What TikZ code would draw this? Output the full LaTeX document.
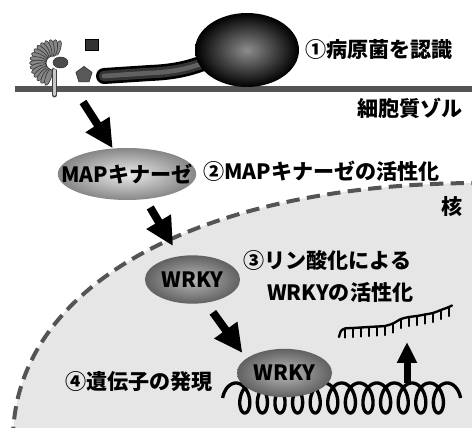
\documentclass[tikz,border=0pt]{standalone}
\usepackage{fontspec}
\setmainfont{Noto Sans CJK JP}
\usepackage{tikz}
\usetikzlibrary{arrows.meta}
\usetikzlibrary{shapes.geometric}

\definecolor{membranegray}{HTML}{545454}
\definecolor{nucleusgray}{HTML}{E6E6E6}

\tikzset{
  txt/.style={font=\bfseries\fontsize{18}{20}\selectfont, inner sep=0pt},
  protein/.style={ellipse, inner sep=0pt, draw=none},
  mapk/.style={protein, inner color=gray!15, outer color=gray!95, minimum width=4.15cm, minimum height=1.56cm},
  wrky/.style={protein, inner color=gray!55, outer color=black!62, minimum width=2.85cm, minimum height=1.45cm},
  sig/.style={line width=0.24cm, -{Triangle[length=0.85cm,width=0.8cm]}},
  lift/.style={line width=0.21cm, -{Triangle[length=0.63cm,width=0.57cm]}},
  petal/.style={fill=gray!95, draw=black!80, line width=0.5pt},
  coil/.style={line width=0.1cm, line join=round},
  rna/.style={line width=0.07cm, line cap=round, line join=round},
}

\begin{document}
\begin{tikzpicture}
  \useasboundingbox (0,0) rectangle (14.16,12.84);
  \clip (0,0) rectangle (14.16,12.84);

  % Nucleus area and its dashed envelope
  \fill[nucleusgray] (0.39,-0.36) .. controls (0.39,4.26) and (6.0,7.35) .. (14.4,7.35) -- (14.4,-0.36) -- cycle;
  \draw[membranegray, line width=0.12cm, dash pattern=on 0.4cm off 0.22cm] (0.39,-0.36) .. controls (0.39,4.26) and (6.0,7.35) .. (14.4,7.35);

  % Plasma membrane
  \draw[membranegray, line width=0.18cm] (0.45,10.17) -- (14.16,10.17);

  % Receptor: stem through the membrane
  \draw[black!75, line width=0.17cm, line cap=round] (1.635,10.74) -- (1.635,10.0);
  \draw[gray!45, line width=0.09cm, line cap=round] (1.635,10.74) -- (1.635,10.0);

  % Receptor: petals round the binding pocket
  \foreach \a in {72,84,...,252}
    \draw[petal, rotate around={\a:(1.59,10.95)}] (2.04,10.95) ellipse (0.25 and 0.085);
  \fill[white] (1.815,10.965) ellipse (0.29 and 0.23);
  \draw[fill=black!70, draw=black!85, line width=0.4pt] (1.815,10.965) ellipse (0.225 and 0.165);

  % Elicitor molecules
  \node[draw=black, fill=black!80, line width=0.6pt, minimum width=0.39cm, minimum height=0.33cm, inner sep=0pt] (elicA) at (2.76,11.49) {};
  \node[regular polygon, regular polygon sides=5, draw=black!80, fill=black!65, line width=0.6pt, minimum size=0.51cm, inner sep=0pt] (elicB) at (2.52,10.59) {};

  % Pathogen: hypha and spore
  \foreach \w/\c in {0.48/100,0.32/80,0.14/62}
    \draw[black!\c, line width=\w cm, line cap=round] (3.12,10.56) -- (4.5,10.65) .. controls (5.25,10.68) and (5.8,10.8) .. (6.45,11.1);
  \shade[inner color=black!45, outer color=black] (7.41,11.34) ellipse (1.56 and 1.11);

  % Labels
  \node[txt, anchor=west] (recog) at (9.15,11.34) {①病原菌を認識};
  \node[txt, anchor=east] (cyto) at (13.89,9.6) {細胞質ゾル};
  \node[txt, anchor=west] (activ) at (6.09,7.71) {②MAPキナーゼの活性化};
  \node[txt, anchor=east] (nuc) at (13.89,6.63) {核};
  \node[txt, anchor=west] (phos) at (7.29,5.04) {③リン酸化による};
  \node[txt, anchor=west] (phosb) at (8.01,4.08) {WRKYの活性化};
  \node[txt, anchor=west] (expr) at (1.95,1.38) {④遺伝子の発現};

  % Gene (coiled DNA)
  \draw[coil] plot[domain=-90:4410, samples=751] ({7.08+0.528*\x/360+0.27*sin(\x)}, {0.9+0.45*cos(\x)});

  % Kinase and transcription factor
  \node[mapk] (map) at (3.81,7.62) {};
  \node[txt] (mapname) at (map) {MAPキナーゼ};
  \node[wrky] (wrkyA) at (5.775,4.455) {};
  \node[txt] (wrkynameA) at (wrkyA) {WRKY};
  \node[wrky] (wrkyB) at (8.535,1.65) {};
  \node[txt] (wrkynameB) at (wrkyB) {WRKY};

  % Transcript
  \draw[rna] plot[smooth, tension=0.5] coordinates {(10.17,2.73) (10.23,2.91) (10.35,2.985) (10.59,3.0) (10.83,3.015) (11.07,3.03) (11.31,3.045) (11.55,3.06) (11.79,3.135) (12.03,3.27) (12.27,3.33) (12.51,3.36) (12.75,3.405) (12.99,3.45) (13.23,3.54) (13.47,3.63) (13.56,3.675)};
  \foreach \x/\y in {10.35/2.985, 10.59/3.0, 10.83/3.015, 11.07/3.03, 11.31/3.045, 11.55/3.06, 11.79/3.135, 12.03/3.27, 12.27/3.33, 12.51/3.36, 12.75/3.405, 12.99/3.45, 13.23/3.54, 13.47/3.63}
    \draw[rna] (\x,\y) -- ++(0,-0.27);

  % Signal arrows
  \coordinate (sense) at (2.49,9.78);
  \draw[sig] (sense) -- (map.119);
  \draw[sig, shorten <=0.285cm, shorten >=0.35cm] (map.-54) -- (wrkyA.120);
  \draw[sig, shorten <=0.35cm, shorten >=0.2cm] (wrkyA.-60) -- (wrkyB.159);

  % Transcription arrow
  \coordinate (gene) at (12.21,1.35);
  \coordinate (mrna) at (12.21,2.58);
  \draw[lift] (gene) -- (mrna);
\end{tikzpicture}
\end{document}
